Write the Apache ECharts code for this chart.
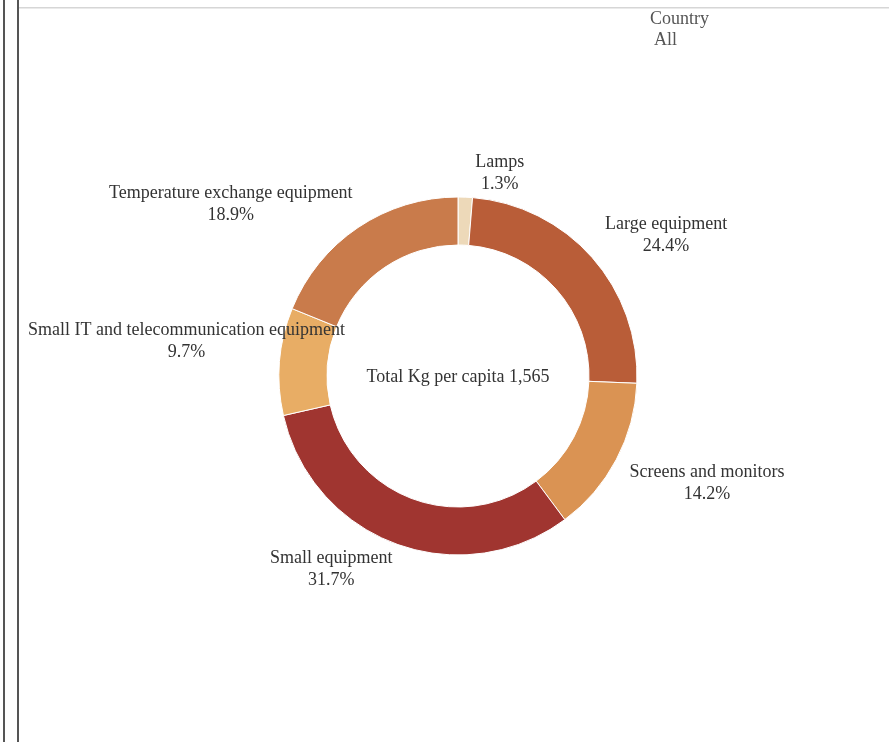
<!DOCTYPE html>
<html>
<head>
<meta charset="utf-8">
<script src="https://cdn.jsdelivr.net/npm/echarts@6/dist/echarts.min.js"></script>
<style>
html,body{margin:0;padding:0;background:#fff;}
#chart{width:889px;height:742px;}
</style>
</head>
<body>
<div id="chart"></div>
<script>
const categories = ['Lamps','Large equipment','Screens and monitors','Small equipment','Small IT and telecommunication equipment','Temperature exchange equipment'];
const shares = [1.3, 24.4, 14.2, 31.7, 9.7, 18.9];
const colors = ['#EDD9B9','#B95D38','#DA9353','#A03530','#E8AD65','#C97B4B'];
const totalLabel = 'Total Kg per capita 1,565';
const filterTitle = 'Country';
const filterValue = 'All';

// small label nudges (layout only) to match the reference label placement
const labelNudges = [[0,0],[-14,-6],[-17,12],[14,3],[2,-18],[17,-3]];

const FONT = '"Liberation Serif", "Times New Roman", serif';
const chart = echarts.init(document.getElementById('chart'));
chart.setOption({
  animation: false,
  graphic: [
    {type:'rect', shape:{x:3,y:0,width:2,height:742}, style:{fill:'#555'}},
    {type:'rect', shape:{x:17,y:0,width:2,height:742}, style:{fill:'#555'}},
    {type:'rect', shape:{x:19,y:7,width:870,height:1.5}, style:{fill:'#d6d6d6'}},
    {type:'text', left:650, top:10, style:{text:filterTitle, font:'18px '+FONT, fill:'#555'}},
    {type:'text', left:654, top:31, style:{text:filterValue, font:'18px '+FONT, fill:'#555'}},
    {type:'text', x:458, y:377, style:{text:totalLabel, font:'18px '+FONT, fill:'#333', align:'center', verticalAlign:'middle'}}
  ],
  series: [{
    type: 'pie',
    center: [458, 376],
    radius: [131, 179],
    startAngle: 90,
    clockwise: true,
    avoidLabelOverlap: false,
    itemStyle: {borderColor:'#fff', borderWidth:1},
    label: {
      show: true,
      position: 'outside',
      formatter: p => '{a|' + p.name + '}\n{a|' + p.value.toFixed(1) + '%}',
      rich: {a: {align:'center', fontFamily: FONT, fontSize: 18, color:'#333', lineHeight: 22}},
      fontFamily: FONT, fontSize: 18, color: '#333'
    },
    labelLine: {show: false, length: 24, length2: 4},
    labelLayout: function (params) {
      const n = labelNudges[params.dataIndex] || [0,0];
      if (params.labelRect.x < 24) {
        return {x: 26 + n[0], align: 'left', dy: n[1]};
      }
      return {dx: n[0], dy: n[1]};
    },
    emphasis: {disabled: true},
    data: categories.map((c, i) => ({name: c, value: shares[i], itemStyle: {color: colors[i]}}))
  }]
});
</script>
</body>
</html>
